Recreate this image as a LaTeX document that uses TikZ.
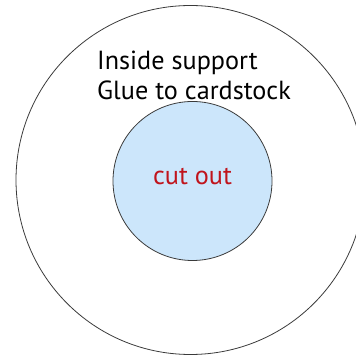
\documentclass[tikz,border=0pt]{standalone}
\usepackage{fontspec}
\setmainfont{PT Sans}
\definecolor{cutblue}{HTML}{CCE6FB}
\definecolor{cutred}{HTML}{C0141C}
\definecolor{ringgray}{HTML}{3A3A3A}
\begin{document}
\begin{tikzpicture}[x=1pt,y=1pt,
  ring/.style={draw=ringgray,line width=0.8pt},
  lbl/.style={inner sep=0pt,anchor=base west,font=\fontsize{26.2}{30}\selectfont}]
\useasboundingbox (0,0) rectangle (356,356);
\clip (0,0) rectangle (356,356);
\node[ring,circle,minimum size=349pt,inner sep=0pt] (outer) at (190.5,176) {};
\node[ring,circle,fill=cutblue,minimum size=159pt,inner sep=0pt] (inner) at (192.5,175) {};
\node[lbl] (l1) at (97,286) {Inside support};
\node[lbl] (l2) at (97,256) {Glue to cardstock};
\node[lbl,anchor=base,text=cutred] (cut) at (192.5,171) {cut out};
\end{tikzpicture}
\end{document}
